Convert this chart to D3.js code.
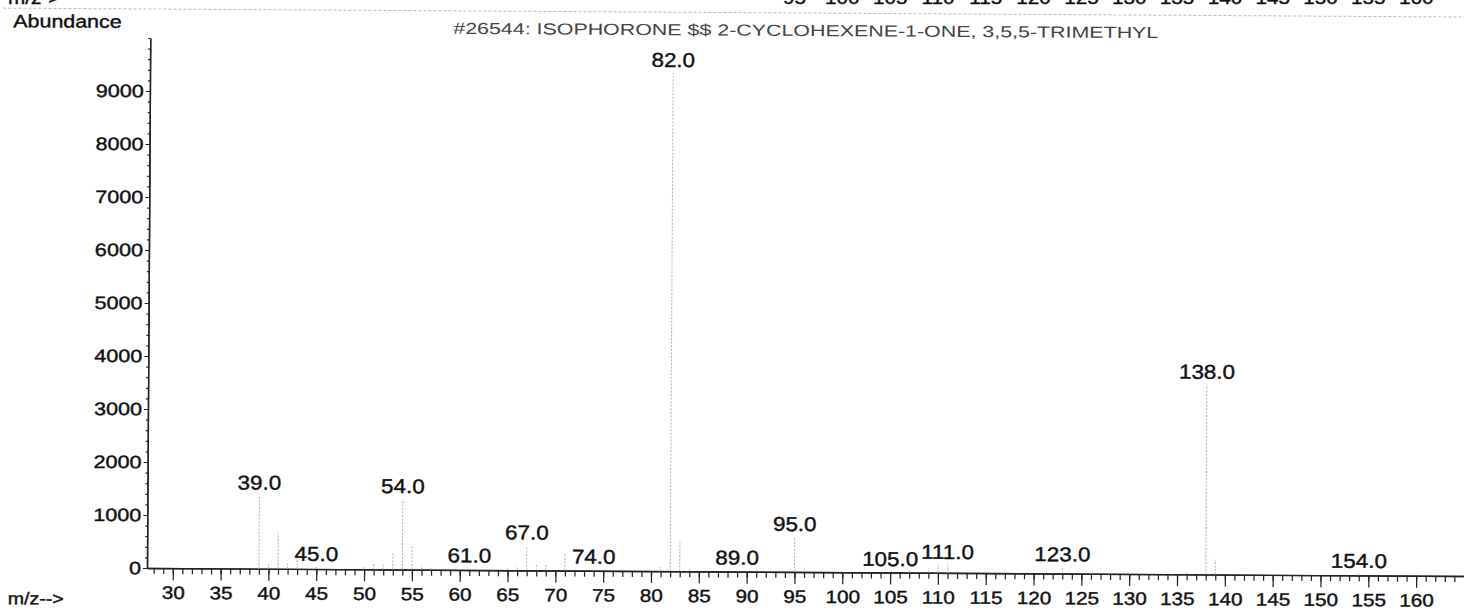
<html>
<head>
  <script src="https://d3js.org/d3.v7.min.js"></script>
  <style>
    body { margin: 0; background: #fff; }
    text { font-family: "Liberation Sans", Arial, sans-serif; }
    .axis .domain { stroke: #222; stroke-width: 1.4px; }
    .axis line { stroke: #222; stroke-width: 1.2px; }
    .axis text { fill: #111; stroke: #111; stroke-width: 0.4px; }
    .heavy { fill: #111; stroke: #111; stroke-width: 0.4px; }
  </style>
</head>
<body>
  <svg id="spec" width="1464" height="611"></svg>
  <script>
    // spectrum values (m/z, abundance)
    const mzValues = [39, 40, 41, 42, 43, 45, 50, 51, 52, 53, 54, 55, 56, 57, 61, 65, 66, 67, 68, 69, 71, 74,
      81, 82, 83, 84, 89, 91, 95, 96, 105, 107, 109, 110, 111, 123, 136, 138, 139, 154];
    const abundances = [1380, 90, 680, 100, 220, 40, 60, 120, 90, 330, 1330, 470, 80, 60, 30, 60, 80, 470, 100, 110, 330, 20,
      80, 9400, 590, 60, 20, 50, 660, 80, 10, 60, 80, 150, 150, 120, 70, 3580, 280, 30];
    const labeledPeaks = [39, 45, 54, 61, 67, 74, 82, 89, 95, 105, 111, 123, 138, 154];
    const yTicks = [0, 1000, 2000, 3000, 4000, 5000, 6000, 7000, 8000, 9000];
    const xTicks = d3.range(30, 165, 5);
    const topRowTicks = d3.range(95, 165, 5);
    const title = "#26544: ISOPHORONE $$ 2-CYCLOHEXENE-1-ONE, 3,5,5-TRIMETHYL";

    const svg = d3.select("svg#spec");
    const width = +svg.attr("width");
    const height = +svg.attr("height");
    const margin = { top: 38, right: 0, bottom: 43, left: 147 };

    const xScale = d3.scaleLinear().domain([27.3, 165]).range([margin.left, width - margin.right]);
    const yScale = d3.scaleLinear().domain([0, 10000]).range([height - margin.bottom, margin.top]);

    svg.append("rect").attr("width", width).attr("height", height).attr("fill", "#fff");

    // leftover strip from the previous page of the scan
    svg.append("text").text("m/z->")
      .attr("class", "heavy")
      .attr("transform", "translate(8,4) scale(1.15,1)")
      .style("font-size", "18px");
    svg.selectAll("text.toprow").data(topRowTicks).join("text")
      .attr("class", "toprow heavy")
      .text(d => d)
      .attr("text-anchor", "middle")
      .attr("transform", d => "translate(" + xScale(d) + ",4) scale(1.15,1)")
      .style("font-size", "18px");

    // the scanned page sits slightly skewed
    const page = svg.append("g")
      .attr("transform", "rotate(0.35," + margin.left + "," + yScale(0) + ")");

    page.append("line")
      .attr("x1", 0).attr("x2", width).attr("y1", 9).attr("y2", 9)
      .style("stroke", "#bbb").style("stroke-dasharray", "3,2");

    page.append("text").text("Abundance")
      .attr("class", "heavy")
      .attr("transform", "translate(10,28) scale(1.19,1)")
      .style("font-size", "18px");

    page.append("text").text(title)
      .attr("x", 450).attr("y", 32)
      .attr("textLength", 705).attr("lengthAdjust", "spacingAndGlyphs")
      .style("font-size", "16px").style("fill", "#444");

    // minor ticks first, then the labelled ones
    page.append("g").attr("class", "axis")
      .attr("transform", "translate(0," + yScale(0) + ")")
      .call(d3.axisBottom(xScale).tickValues(d3.range(28, 165)).tickSize(6).tickSizeOuter(0).tickFormat(""));
    const xAxis = page.append("g").attr("class", "axis")
      .attr("transform", "translate(0," + yScale(0) + ")")
      .call(d3.axisBottom(xScale).tickValues(xTicks).tickSize(12).tickPadding(6).tickSizeOuter(0));
    xAxis.selectAll("text").style("font-size", "18px").attr("transform", "scale(1.15,1)");

    page.append("g").attr("class", "axis")
      .attr("transform", "translate(" + margin.left + ",0)")
      .call(d3.axisLeft(yScale).tickValues(d3.range(0, 10001, 200)).tickSize(2).tickSizeOuter(0).tickFormat(""));
    const yAxis = page.append("g").attr("class", "axis")
      .attr("transform", "translate(" + margin.left + ",0)")
      .call(d3.axisLeft(yScale).tickValues(yTicks).tickSize(4).tickPadding(1).tickSizeOuter(0).tickFormat(d3.format("d")));
    yAxis.selectAll("text").style("font-size", "18px").attr("transform", "scale(1.2,1)");

    page.append("text").text("m/z-->")
      .attr("class", "heavy")
      .attr("transform", "translate(8,605) scale(1.15,1)")
      .style("font-size", "17px");

    const peaks = mzValues.map((m, i) => ({ mz: m, ab: abundances[i] }));

    page.append("g").selectAll("line").data(peaks).join("line")
      .attr("x1", d => xScale(d.mz)).attr("x2", d => xScale(d.mz))
      .attr("y1", yScale(0)).attr("y2", d => yScale(d.ab))
      .style("stroke", "#b0b0b0")
      .style("stroke-width", 1)
      .style("stroke-dasharray", "2,1.5");

    page.append("g").selectAll("text").data(peaks.filter(d => labeledPeaks.includes(d.mz))).join("text")
      .attr("class", "heavy")
      .text(d => d.mz.toFixed(1))
      .attr("text-anchor", "middle")
      .attr("transform", d => "translate(" + xScale(d.mz) + "," + (yScale(d.ab) - 6) + ") scale(1.12,1)")
      .style("font-size", "20px");
  </script>
</body>
</html>
